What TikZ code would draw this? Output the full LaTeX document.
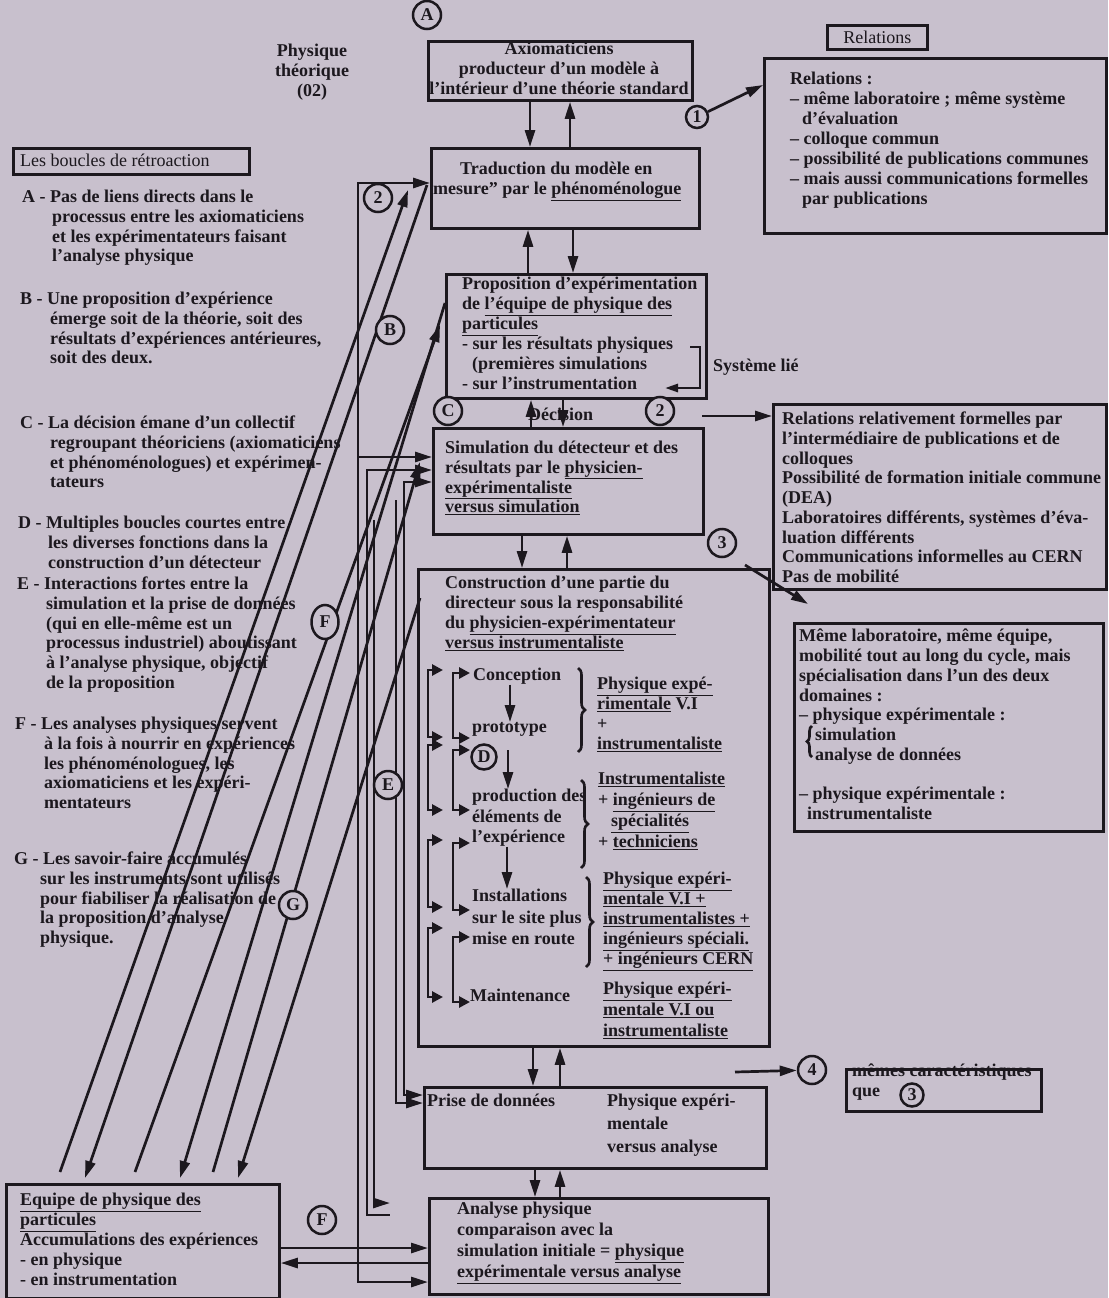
\documentclass[tikz,border=0pt]{standalone}
\usepackage{fontspec}
\setmainfont{Liberation Serif}
\usetikzlibrary{arrows.meta,decorations.pathreplacing,shapes.geometric}
\definecolor{bg}{RGB}{200,192,205}
\definecolor{ink}{RGB}{28,24,30}
\newcommand\myfs{\fontsize{18}{19.7}\selectfont\bfseries}
\begin{document}
\begin{tikzpicture}[x=1pt,y=-1pt,
  box/.style={draw=ink, line width=2.8pt, rectangle, inner sep=0, anchor=north west},
  txt/.style={anchor=north west, inner sep=0, align=left, text=ink, font=\myfs},
  ctxt/.style={anchor=north, inner sep=0, align=center, text=ink, font=\myfs},
  ln/.style={draw=ink, line width=2.7pt, line join=miter},
  arr/.style={ln, -{Triangle[length=17pt,width=10pt]}},
  rarr/.style={ln, {Triangle[length=17pt,width=10pt]}-},
  barr/.style={ln, {Triangle[length=17pt,width=10pt]}-{Triangle[length=17pt,width=10pt]}},
  brk/.style={draw=ink, line width=2.8pt, {Triangle[length=11pt,width=11pt]}-{Triangle[length=11pt,width=11pt]}},
  circ/.style={circle, draw=ink, fill=bg, line width=2.5pt, inner sep=0, minimum size=28pt, text=ink, font=\fontsize{18}{18}\selectfont\bfseries},
  brace/.style={draw=ink, line width=2.6pt, decorate, decoration={brace, amplitude=7pt}},
]
\fill[bg] (0,0) rectangle (1108,1298);
\useasboundingbox (0,0) rectangle (1108,1298);

% ---------- left feedback lines (drawn first) ----------
\coordinate (d1b) at (60,1172);  \coordinate (d1t) at (408,190);
\coordinate (d2t) at (427,185);  \coordinate (d2b) at (85,1178);
\coordinate (d3b) at (135,1172); \coordinate (d3t) at (440,325);
\coordinate (d4t) at (445,303);  \coordinate (d4b) at (180,1178);
\coordinate (d5b) at (213,1172); \coordinate (d5t) at (420,462);
\coordinate (d6t) at (420,598);  \coordinate (d6b) at (238,1178);
\draw[arr] (d1b) -- (d1t);
\draw[arr] (d2t) -- (d2b);
\draw[arr] (d3b) -- (d3t);
\draw[arr] (d4t) -- (d4b);
\draw[arr] (d5b) -- (d5t);
\draw[arr] (d6t) -- (d6b);

% ---------- boxes ----------
\node[box, minimum width=264pt, minimum height=59pt] (axio) at (427,40) {};
\node[box, minimum width=100pt, minimum height=24pt, font=\fontsize{18}{18}\selectfont, text=ink] (rel) at (826,24) {Relations};
\node[box, minimum width=342pt, minimum height=175pt] (relbox) at (763,57) {};
\node[box, minimum width=236pt, minimum height=26pt] (boucles) at (12,147) {};
\node[box, minimum width=268pt, minimum height=80pt] (trad) at (430,147) {};
\node[box, minimum width=260pt, minimum height=124pt] (prop) at (445,273) {};
\node[box, minimum width=270pt, minimum height=106pt] (simu) at (432,427) {};
\node[box, minimum width=333pt, minimum height=185pt] (relrel) at (772,403) {};
\node[box, minimum width=351pt, minimum height=477pt] (constr) at (417,568) {};
\node[box, minimum width=309pt, minimum height=208pt] (meme) at (793,622) {};
\node[box, minimum width=342pt, minimum height=81pt] (prise) at (423,1086) {};
\node[box, minimum width=339pt, minimum height=96pt] (analyse) at (428,1197) {};
\node[box, minimum width=273pt, minimum height=114pt] (equipe) at (5,1183) {};

% ---------- left vertical loops ----------
\draw[barr] (analyse.west |- 0,1282) -- (358,1282) -- (358,183) -- (trad.west |- 0,183);
\draw[arr] (358,457) -- (simu.west |- 0,457);
\draw[rarr] (simu.west |- 0,470) -- (367,470) -- (367,1215) -- (390,1215);
\draw[arr] (374,520) -- (374,1203) -- (390,1203);
\draw[barr] (simu.west |- 0,482) -- (404,482) -- (404,1095) -- (prise.west |- 0,1095);
\draw[arr] (396,500) -- (396,1103) -- (prise.west |- 0,1103);

% ---------- titles ----------
\node[circ] (cA) at (427,15) {A};
\node[ctxt] (tphys) at (312,44) {Physique\\théorique\\(02)};
\node[ctxt] (taxio) at (559,42) {Axiomaticiens\\producteur d'un modèle à\\l'intérieur d'une théorie standard};

\node[txt, font=\fontsize{18}{20}\selectfont\bfseries] (trelbox) at (790,72) {Relations :\\– même laboratoire ; même système\\\hspace*{12pt}d'évaluation\\– colloque commun\\– possibilité de publications communes\\– mais aussi communications formelles\\\hspace*{12pt}par publications};
\node[circ, minimum size=22pt] (c1) at (697,117) {1};
\draw[arr] (c1) -- (relbox.west |- 0,85);

% ---------- left legend ----------
\node[txt, anchor=west, font=\fontsize{18}{19.7}\selectfont] (tboucles) at (20,160) {Les boucles de rétroaction};
\node[txt] (itA) at (22,190) {A - Pas de liens directs dans le\\\hspace*{30pt}processus entre les axiomaticiens\\\hspace*{30pt}et les expérimentateurs faisant\\\hspace*{30pt}l'analyse physique};
\node[txt] (itB) at (20,292) {B - Une proposition d'expérience\\\hspace*{30pt}émerge soit de la théorie, soit des\\\hspace*{30pt}résultats d'expériences antérieures,\\\hspace*{30pt}soit des deux.};
\node[txt] (itC) at (20,416) {C - La décision émane d'un collectif\\\hspace*{30pt}regroupant théoriciens (axiomaticiens\\\hspace*{30pt}et phénoménologues) et expérimen-\\\hspace*{30pt}tateurs};
\node[txt] (itD) at (18,516) {D - Multiples boucles courtes entre\\\hspace*{30pt}les diverses fonctions dans la\\\hspace*{30pt}construction d'un détecteur};
\node[txt] (itE) at (17,577) {E - Interactions fortes entre la\\\hspace*{29pt}simulation et la prise de données\\\hspace*{29pt}(qui en elle-même est un\\\hspace*{29pt}processus industriel) aboutissant\\\hspace*{29pt}à l'analyse physique, objectif\\\hspace*{29pt}de la proposition};
\node[txt] (itF) at (15,717) {F - Les analyses physiques servent\\\hspace*{29pt}à la fois à nourrir en expériences\\\hspace*{29pt}les phénoménologues, les\\\hspace*{29pt}axiomaticiens et les expéri-\\\hspace*{29pt}mentateurs};
\node[txt] (itG) at (14,852) {G - Les savoir-faire accumulés\\\hspace*{26pt}sur les instruments sont utilisés\\\hspace*{26pt}pour fiabiliser la réalisation de\\\hspace*{26pt}la proposition d'analyse\\\hspace*{26pt}physique.};

% ---------- central column ----------
\node[txt] (ttrad) at (433,162) {\hspace*{27pt}Traduction du modèle en\\mesure" par le \underline{phénoménologue}};
\node[txt, font=\fontsize{18}{20}\selectfont\bfseries] (tprop) at (462,277) {Proposition d'expérimentation\\de \underline{l'équipe de physique des}\\\underline{particules}\\- sur les résultats physiques\\\hspace*{10pt}(premières simulations\\- sur l'instrumentation};
\coordinate (s1) at (690,347); \coordinate (s2) at (700,347); \coordinate (s3) at (700,388); \coordinate (s4) at (665,388);
\draw[ln, -{Triangle[length=13pt,width=8pt]}] (s1) -- (s2) -- (s3) -- (s4);
\node[txt, anchor=west] (tsys) at (713,367) {Système lié};

\draw[arr] (axio.south -| 530,0) -- (trad.north -| 530,0);
\draw[arr] (trad.north -| 570,0) -- (axio.south -| 570,0);
\draw[arr] (prop.north -| 528,0) -- (trad.south -| 528,0);
\draw[arr] (trad.south -| 573,0) -- (prop.north -| 573,0);
\draw[arr] (simu.north -| 531,0) -- (prop.south -| 531,0);
\draw[arr] (prop.south -| 563,0) -- (simu.north -| 563,0);
\draw[arr] (simu.south -| 522,0) -- (constr.north -| 522,0);
\draw[arr] (constr.north -| 567,0) -- (simu.south -| 567,0);
\draw[arr] (constr.south -| 533,0) -- (prise.north -| 533,0);
\draw[arr] (prise.north -| 560,0) -- (constr.south -| 560,0);
\draw[arr] (prise.south -| 535,0) -- (analyse.north -| 535,0);
\draw[arr] (analyse.north -| 560,0) -- (prise.south -| 560,0);

\node[txt, anchor=west] (tdec) at (528,414) {Décision};
\node[circ] (cC) at (448,411) {C};
\node[circ] (c2b) at (660,411) {2};
\coordinate (c2s) at (702,416);
\draw[arr] (c2s) -- (relrel.west |- 0,416);

\node[txt] (tsimu) at (445,441) {Simulation du détecteur et des\\résultats par le \underline{physicien-}\\\underline{expérimentaliste}\\\underline{versus simulation}};

\node[txt] (trelrel) at (782,412) {Relations relativement formelles par\\l'intermédiaire de publications et de\\colloques\\Possibilité de formation initiale commune\\(DEA)\\Laboratoires différents, systèmes d'éva-\\luation différents\\Communications informelles au CERN\\Pas de mobilité};

\node[circ] (c3) at (722,543) {3};
\coordinate (c3s) at (745,565); \coordinate (c3e) at (808,604);
\draw[arr] (c3s) -- (c3e);

\node[txt, font=\fontsize{18}{20}\selectfont\bfseries] (tconstr) at (445,576) {Construction d'une partie du\\directeur sous la responsabilité\\du \underline{physicien-expérimentateur}\\\underline{versus instrumentaliste}};

% inner steps
\node[txt] (tconc) at (473,668) {Conception};
\node[txt] (tproto) at (472,722) {prototype};
\node[txt, font=\fontsize{18}{20.5}\selectfont\bfseries] (tprod) at (472,789) {production des\\éléments de\\l'expérience};
\node[txt, font=\fontsize{18}{21.5}\selectfont\bfseries] (tinst) at (472,889) {Installations\\sur le site plus\\mise en route};
\node[txt] (tmaint) at (470,989) {Maintenance};
\draw[arr] (tconc.south -| 510,0) -- (tproto.north -| 510,0);
\draw[arr] (508,750) -- (tprod.north -| 508,0);
\draw[arr] (tprod.south -| 507,0) -- (tinst.north -| 507,0);
\node[circ, minimum size=25pt] (cD) at (484,757) {D};

\draw[brk] (443,670) -- (428,670) -- (428,737) -- (443,737);
\draw[brk] (470,673) -- (453,673) -- (453,738) -- (470,738);
\draw[brk] (443,745) -- (428,745) -- (428,810) -- (443,810);
\draw[brk] (470,750) -- (453,750) -- (453,810) -- (470,810);
\draw[brk] (443,840) -- (428,840) -- (428,907) -- (443,907);
\draw[brk] (470,843) -- (453,843) -- (453,910) -- (470,910);
\draw[brk] (443,928) -- (428,928) -- (428,997) -- (443,997);
\draw[brk] (470,937) -- (453,937) -- (453,1002) -- (470,1002);

\draw[brace] (578,668) -- (578,752);
\draw[brace] (581,780) -- (581,868);
\draw[brace] (586,877) -- (586,967);

\node[txt, font=\fontsize{18}{20}\selectfont\bfseries] (tr1) at (597,677) {\underline{Physique expé-}\\\underline{rimentale} V.I\\+\\\underline{instrumentaliste}};
\node[txt, font=\fontsize{18}{21}\selectfont\bfseries] (tr2) at (598,772) {\underline{Instrumentaliste}\\+ \underline{ingénieurs de}\\\hspace*{13pt}\underline{spécialités}\\+ \underline{techniciens}};
\node[txt, font=\fontsize{18}{20}\selectfont\bfseries] (tr3) at (603,872) {\underline{Physique expéri-}\\\underline{mentale V.I +}\\\underline{instrumentalistes +}\\\underline{ingénieurs spéciali.}\\\underline{+ ingénieurs CERN}};
\node[txt, font=\fontsize{18}{21}\selectfont\bfseries] (tr4) at (603,982) {\underline{Physique expéri-}\\\underline{mentale V.I ou}\\\underline{instrumentaliste}};

% ---------- right: same lab ----------
\node[txt] (tmeme) at (799,629) {Même laboratoire, même équipe,\\mobilité tout au long du cycle, mais\\spécialisation dans l'un des deux\\domaines :\\– physique expérimentale :\\\hspace*{16pt}simulation\\\hspace*{16pt}analyse de données\\[19.7pt]– physique expérimentale :\\\hspace*{8pt}instrumentaliste};
\draw[brace, decoration={brace, amplitude=5pt}] (812,757) -- (812,726);

% ---------- bottom ----------
\node[txt] (tprise) at (427,1094) {Prise de données};
\node[txt, font=\fontsize{18}{23}\selectfont\bfseries] (tprise2) at (607,1094) {Physique expéri-\\mentale\\versus analyse};
\node[txt, font=\fontsize{18}{21}\selectfont\bfseries] (tanal) at (457,1202) {Analyse physique\\comparaison avec la\\simulation initiale = \underline{physique}\\\underline{expérimentale versus analyse}};
\node[txt, font=\fontsize{18}{20}\selectfont\bfseries] (tequipe) at (20,1193) {\underline{Equipe de physique des}\\\underline{particules}\\Accumulations des expériences\\- en physique\\- en instrumentation};

\draw[arr] (equipe.east |- 0,1248) -- (analyse.west |- 0,1248);
\draw[arr] (analyse.west |- 0,1263) -- (equipe.east |- 0,1263);

\node[circ] (c4) at (812,1070) {4};
\coordinate (c4s) at (735,1072);
\draw[arr] (c4s) -- (c4);
\node[txt] (tmemes) at (852,1064) {mêmes caractéristiques\\que};
\node[box, minimum width=195pt, minimum height=42pt] (memes) at (845,1068) {};
\node[circ, minimum size=23pt] (c3b) at (912,1095) {3};

% ---------- circled letters on the left ----------
\node[circ] (c2a) at (378,198) {2};
\node[circ] (cB) at (390,330) {B};
\node[circ, ellipse, minimum width=27pt, minimum height=34pt] (cF) at (325,622) {F};
\node[circ] (cE) at (388,785) {E};
\node[circ] (cG) at (293,905) {G};
\node[circ] (cF2) at (322,1220) {F};
\end{tikzpicture}
\end{document}
